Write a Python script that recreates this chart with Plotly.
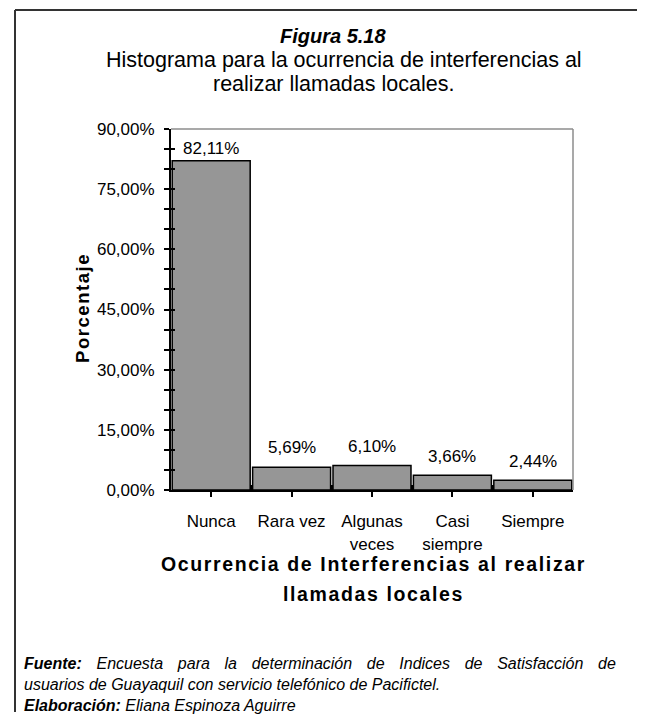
import plotly.graph_objects as go

categories = ["Nunca", "Rara vez", "Algunas<br>veces", "Casi<br>siempre", "Siempre"]
values = [82.11, 5.69, 6.10, 3.66, 2.44]
value_labels = ["82,11%", "5,69%", "6,10%", "3,66%", "2,44%"]
y_tickvals = [0, 15, 30, 45, 60, 75, 90]
y_ticktext = ["0,00%", "15,00%", "30,00%", "45,00%", "60,00%", "75,00%", "90,00%"]

OFF = 8  # default body margin of the html page
W, H = 645 - OFF, 715 - OFF
L, R, T, B = 171 - OFF, 573 - OFF, 129 - OFF, 490 - OFF
FONT = "Liberation Sans"
HS = "\u200a"


def px(x):
    return (x - OFF - L) / (R - L)


def py(y):
    return (B - (y - OFF)) / (B - T)


def spaced(s):
    return HS.join(list(s))


fig = go.Figure()
fig.add_trace(go.Bar(
    x=categories, y=values,
    marker=dict(color="#969696", line=dict(color="black", width=1.5)),
    hoverinfo="skip", showlegend=False,
))
fig.add_trace(go.Scatter(
    x=categories, y=values, xaxis="x2", yaxis="y2", mode="markers",
    marker=dict(opacity=0), hoverinfo="skip", showlegend=False,
))

label_shift = [12, 20, 19, 19, 19]
for c, v, t, s in zip(categories, values, value_labels, label_shift):
    fig.add_annotation(x=c, y=v, text=t, showarrow=False, yanchor="middle",
                       yshift=s, font=dict(family=FONT, size=17, color="black"))

fig.update_layout(
    width=W, height=H,
    margin=dict(l=L, r=W - R, t=T, b=H - B),
    paper_bgcolor="white", plot_bgcolor="white",
    bargap=0.03,
    xaxis=dict(
        type="category", range=[-0.5, 4.5], showgrid=False, showline=True,
        linecolor="black", linewidth=2, ticks="outside", ticklen=5, tickwidth=2,
        tickcolor="black", ticklabelstandoff=10,
        tickfont=dict(family=FONT, size=17, color="black"),
    ),
    xaxis2=dict(
        type="category", overlaying="x", range=[-0.5, 4.5], showgrid=False,
        showline=False, ticks="inside", ticklen=5, tickwidth=1.5, tickcolor="black",
        tickson="boundaries", showticklabels=False, anchor="y",
    ),
    yaxis=dict(
        range=[0, 90], tickvals=y_tickvals, ticktext=y_ticktext, showgrid=False,
        zeroline=False, showline=True, linecolor="black", linewidth=2,
        ticks="outside", ticklen=5, tickwidth=2, tickcolor="black",
        minor=dict(dtick=5, ticks="outside", ticklen=5, tickwidth=2, tickcolor="black"),
        ticklabelstandoff=6,
        tickfont=dict(family=FONT, size=17, color="black"),
    ),
    yaxis2=dict(
        range=[0, 90], overlaying="y", anchor="x", side="left", dtick=5,
        ticks="inside", ticklen=4, tickwidth=2, tickcolor="black",
        showticklabels=False, showgrid=False, zeroline=False, showline=False,
    ),
)

shapes = [
    dict(type="line", xref="paper", yref="paper", x0=0, x1=1, y0=1, y1=1,
         line=dict(color="#8c8c8c", width=1.5)),
    dict(type="line", xref="paper", yref="paper", x0=1, x1=1, y0=0, y1=1,
         line=dict(color="#8c8c8c", width=1.5)),
    dict(type="line", xref="paper", yref="paper", x0=px(15), x1=px(15), y0=py(10), y1=py(712),
         line=dict(color="#333333", width=2)),
    dict(type="line", xref="paper", yref="paper", x0=px(15), x1=px(660), y0=py(10), y1=py(10),
         line=dict(color="#333333", width=2)),
]
fig.update_layout(shapes=shapes)

ann = [
    dict(text="<b><i>Figura 5.18</i></b>", x=px(333), y=py(36), size=20),
    dict(text="Histograma para la ocurrencia de interferencias al", x=px(344), y=py(60), size=21.5),
    dict(text="realizar llamadas locales.", x=px(333), y=py(84), size=21.5),
    dict(text="<b>" + spaced("Ocurrencia de Interferencias al realizar") + "</b>",
         x=px(373), y=py(564), size=19.5),
    dict(text="<b>" + spaced("llamadas locales") + "</b>", x=px(373), y=py(594), size=19.5),
]
for a in ann:
    fig.add_annotation(text=a["text"], x=a["x"], y=a["y"], xref="paper", yref="paper",
                       showarrow=False, xanchor="center", yanchor="middle",
                       font=dict(family=FONT, size=a["size"], color="black"))

fig.add_annotation(text="<b>" + spaced("Porcentaje") + "</b>", x=px(82), y=py(309),
                   xref="paper", yref="paper",
                   showarrow=False, textangle=-90, xanchor="center", yanchor="middle",
                   font=dict(family=FONT, size=18.5, color="black"))

J = "&nbsp;&nbsp;\u200a "
first = J.join("Encuesta para la determinación de Indices de Satisfacción de".split(" "))
footer_lines = [
    "<b><i>Fuente:</i></b><i>" + J + first + "</i>",
    "<i>usuarios de Guayaquil con servicio telefónico de Pacifictel.</i>",
    "<b><i>Elaboración:</i></b><i> Eliana Espinoza Aguirre</i>",
]
fig.add_annotation(text="<br>".join(footer_lines), x=px(22), y=py(684),
                   xref="paper", yref="paper", showarrow=False, align="left",
                   xanchor="left", yanchor="middle",
                   font=dict(family=FONT, size=16, color="black"))

fig.write_html("out.html")
